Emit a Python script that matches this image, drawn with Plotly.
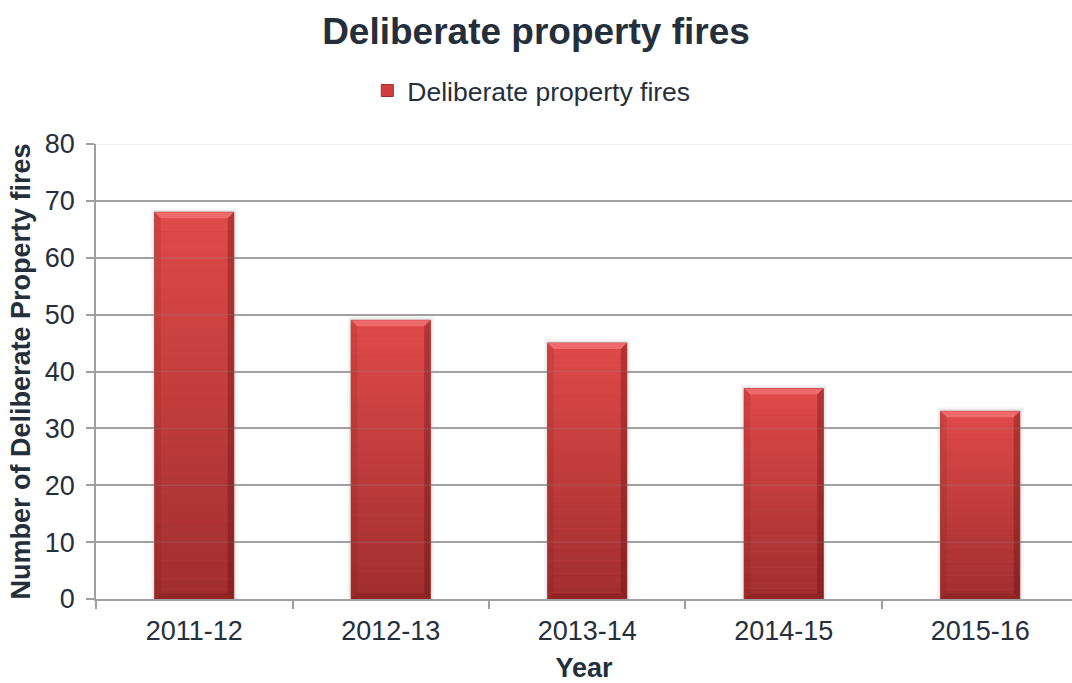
import plotly.graph_objects as go

# Data
years = ["2011-12", "2012-13", "2013-14", "2014-15", "2015-16"]
fires = [68, 49, 45, 37, 33]
y_ticks = [0, 10, 20, 30, 40, 50, 60, 70, 80]

TEXT = "#252f3c"
FONT = "Liberation Sans, Arial, sans-serif"
BAR_GAP = 0.598
BAR_W = 1 - BAR_GAP

PLOT_H = 455          # plot height in px (top margin 144, bottom 84)
X_RANGE = [-0.5, 4.467]

TOP_RGB = (224, 74, 74)
BOT_RGB = (160, 46, 46)


def mix(a, b, t):
    return "rgb(%d,%d,%d)" % tuple(round(a[k] + (b[k] - a[k]) * t) for k in range(3))


fig = go.Figure()
fig.add_trace(go.Bar(
    x=years, y=fires, name="Deliberate property fires",
    marker=dict(color="#cf3f3f", line=dict(color="#9e2c2c", width=1)),
    showlegend=True,
))

shapes = []
N = 40
px_per_unit = PLOT_H / 80
for i, v in enumerate(fires):
    x0, x1 = i - BAR_W / 2, i + BAR_W / 2
    bar_h = v * px_per_unit
    # soft shadow behind each bar
    for grow, alpha in ((4, 0.04), (2, 0.06)):
        shapes.append(dict(type="rect", layer="below", xref="x", yref="y",
                           xsizemode="pixel", xanchor=i, x0=-39.5 - grow, x1=39.5 + grow,
                           ysizemode="pixel", yanchor=0, y0=0, y1=bar_h + grow,
                           fillcolor="rgba(0,0,0,%g)" % alpha, line=dict(width=0)))
    # vertical gradient fill (light at the top, dark at the base)
    for k in range(N):
        ya = v * k / N
        yb = v * (k + 1) / N
        t = 1 - (k + 0.5) / N
        shapes.append(dict(type="rect", layer="above", xref="x", yref="y",
                           x0=x0, x1=x1, y0=ya, y1=yb,
                           fillcolor=mix(TOP_RGB, BOT_RGB, t), line=dict(width=0)))
    # bevel edges
    hw = 39.5
    b = 6
    bevels = [
        # top highlight
        ("M %f %f L %f %f L %f %f L %f %f Z" % (-hw, bar_h, hw, bar_h, hw - b, bar_h - b, -hw + b, bar_h - b),
         "rgba(255,140,140,0.5)"),
        # left edge
        ("M %f %f L %f %f L %f %f L %f %f Z" % (-hw, 0, -hw, bar_h, -hw + b, bar_h - b, -hw + b, b),
         "rgba(120,20,20,0.15)"),
        # right edge
        ("M %f %f L %f %f L %f %f L %f %f Z" % (hw, 0, hw, bar_h, hw - b, bar_h - b, hw - b, b),
         "rgba(90,10,10,0.32)"),
        # bottom edge
        ("M %f %f L %f %f L %f %f L %f %f Z" % (-hw, 0, hw, 0, hw - b, b, -hw + b, b),
         "rgba(90,10,10,0.22)"),
    ]
    for path, col in bevels:
        shapes.append(dict(type="path", layer="above", xref="x", yref="y",
                           xsizemode="pixel", xanchor=i,
                           ysizemode="pixel", yanchor=0,
                           path=path, fillcolor=col, line=dict(width=0)))

# faint gridlines visible through the bars
for t in y_ticks[1:]:
    shapes.append(dict(type="line", layer="above", xref="paper", yref="y",
                       x0=0, x1=1, y0=t, y1=t,
                       line=dict(color="rgba(140,140,140,0.22)", width=1.5)))

fig.update_layout(
    width=1072, height=683,
    margin=dict(l=96, r=0, t=144, b=84),
    paper_bgcolor="white", plot_bgcolor="white",
    font=dict(family=FONT, color=TEXT, size=27),
    title=dict(text="<b>Deliberate property fires</b>", x=0.5, xanchor="center",
               y=0.955, yanchor="middle", font=dict(size=37, color=TEXT)),
    legend=dict(orientation="h", x=0.446, xanchor="center", y=1.117, yanchor="middle",
                font=dict(size=26.5, color=TEXT), itemwidth=30,
                bgcolor="rgba(0,0,0,0)"),
    bargap=BAR_GAP,
    shapes=shapes,
    showlegend=True,
)

fig.update_xaxes(
    type="category", categoryorder="array", categoryarray=years,
    range=X_RANGE,
    showline=True, linecolor="#a0a0a0", linewidth=1.5,
    ticks="outside", tickson="boundaries", ticklen=8, tickcolor="#a0a0a0", tickwidth=1.5,
    tickfont=dict(size=27, color=TEXT), ticklabelstandoff=7,
    title=dict(text="<b>Year</b>", font=dict(size=27, color=TEXT), standoff=13),
    showgrid=False,
)
fig.update_yaxes(
    range=[0, 80], tickvals=y_ticks,
    showline=True, linecolor="#a0a0a0", linewidth=1.5,
    ticks="outside", ticklen=8, tickcolor="#a0a0a0", tickwidth=1.5,
    showgrid=True, gridcolor="#a6a6a6", gridwidth=1.5,
    zeroline=False,
    tickfont=dict(size=27, color=TEXT), ticklabelstandoff=6,
    title=dict(text="<b>Number of Deliberate Property fires</b>",
               font=dict(size=27, color=TEXT), standoff=6),
)

fig.write_html("out.html")
